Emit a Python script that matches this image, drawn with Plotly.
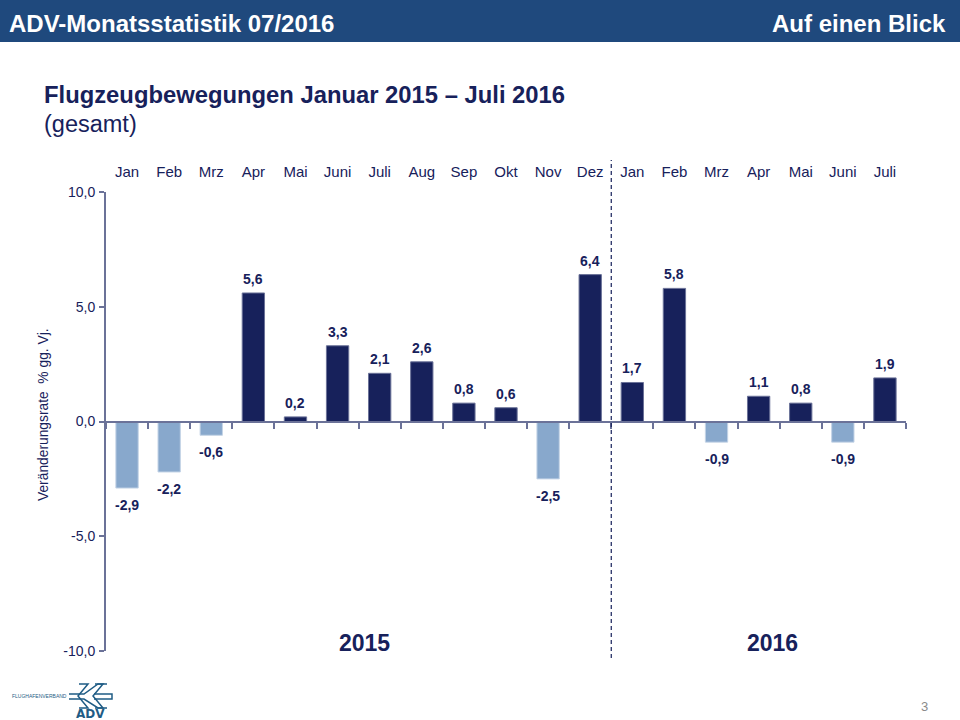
import plotly.graph_objects as go

# Veraenderungsrate gegenueber Vorjahr
monate = ['Jan', 'Feb', 'Mrz', 'Apr', 'Mai', 'Juni', 'Juli', 'Aug', 'Sep', 'Okt', 'Nov', 'Dez',
          'Jan', 'Feb', 'Mrz', 'Apr', 'Mai', 'Juni', 'Juli']
werte = [-2.9, -2.2, -0.6, 5.6, 0.2, 3.3, 2.1, 2.6, 0.8, 0.6, -2.5, 6.4,
         1.7, 5.8, -0.9, 1.1, 0.8, -0.9, 1.9]
y_ticks = [-10, -5, 0, 5, 10]
y_labels = ['-10,0', '-5,0', '0,0', '5,0', '10,0']

FONT = 'Liberation Sans'
NAVY = '#17215B'
HELL = '#88A8CC'
ACHSE = '#6B7298'
LOGO = '#1F5C85'
positionen = list(range(len(monate)))


def py(pixel):
    return 1 - pixel / 720


def px(pixel):
    return pixel / 960


def kante(punkte, breite):
    pfad = 'M ' + ' L '.join(f'{px(a)} {py(b)}' for a, b in punkte)
    return dict(type='path', xref='paper', yref='paper', path=pfad, line=dict(color=LOGO, width=breite))


farben = [NAVY if w >= 0 else HELL for w in werte]
rand = ['#6B7298' if w >= 0 else '#C3D3E6' for w in werte]
texte = [f'{w:.1f}'.replace('.', ',') for w in werte]

fig = go.Figure()
fig.add_trace(go.Bar(x=positionen, y=werte, width=0.53, marker=dict(color=farben, line=dict(color=rand, width=1)),
                     showlegend=False, hoverinfo='skip'))
# zweite Achse nur fuer die Monatsnamen oben
fig.add_trace(go.Bar(x=positionen, y=[None] * len(monate), xaxis='x2', showlegend=False, hoverinfo='skip'))

# Werte ueber/unter den Balken, etwas abgesetzt
wert_labels = [
    dict(text=t, x=i, y=w, xref='x', yref='y', yanchor='middle', xanchor='center', showarrow=False,
         yshift=14 if w >= 0 else -17, font=dict(family=FONT, size=14, color=NAVY, weight='bold'))
    for i, w, t in zip(positionen, werte, texte)
]

fig.update_layout(
    width=960, height=720, paper_bgcolor='white', plot_bgcolor='white',
    margin=dict(l=0, r=0, t=0, b=0, pad=0), barmode='overlay',
    font=dict(family=FONT, color=NAVY),
    xaxis=dict(domain=[px(106), px(906)], range=[-0.5, 18.5], anchor='free', position=py(421.5),
               automargin=False, showgrid=False, zeroline=False, showline=True, linecolor=ACHSE, linewidth=2,
               tickmode='array', tickvals=[i - 0.5 for i in range(20)], showticklabels=False,
               ticks='outside', ticklen=6, tickcolor=ACHSE, tickwidth=2),
    xaxis2=dict(domain=[px(106), px(906)], range=[-0.5, 18.5], overlaying='x', side='top',
                anchor='free', position=py(192), automargin=False, showgrid=False, zeroline=False, showline=False,
                tickmode='array', tickvals=positionen, ticktext=monate, ticks='outside', ticklen=9,
                tickcolor='rgba(0,0,0,0)', tickfont=dict(family=FONT, size=15, color=NAVY)),
    yaxis=dict(domain=[py(651), py(192)], range=[-10, 10], tickmode='array', tickvals=y_ticks,
               automargin=False, ticktext=y_labels, showgrid=False, zeroline=False, showline=True, linecolor=ACHSE,
               linewidth=2, ticks='outside', ticklen=5, tickcolor=ACHSE, tickwidth=2, ticklabelstandoff=1,
               tickfont=dict(family=FONT, size=14, color=NAVY)),
    shapes=[
        dict(type='rect', xref='paper', yref='paper', x0=0, x1=1, y0=py(42), y1=1,
             fillcolor='#1F497D', line_width=0),
        dict(type='line', xref='x', yref='paper', x0=11.5, x1=11.5, y0=py(658), y1=py(160),
             line=dict(color=NAVY, width=1.2, dash='4px,3px')),
        # Logo
        kante([(69, 694), (84, 694), (98, 684), (107, 684)], 1.5),
        kante([(69, 699), (84, 699), (98, 708), (107, 708)], 1.5),
        kante([(94, 694), (112, 694), (112, 699), (94, 699)], 1.5),
        kante([(79, 684), (88, 684), (78, 696), (88, 708), (79, 708)], 1.5),
        kante([(95, 684), (103, 684), (93, 696), (103, 708), (95, 708)], 1.5),
    ],
    annotations=wert_labels + [
        dict(text='ADV-Monatsstatistik 07/2016', xref='paper', yref='paper', x=px(7), y=py(24),
             xanchor='left', yanchor='middle', showarrow=False,
             font=dict(size=24, color='white', weight='bold')),
        dict(text='Auf einen Blick', xref='paper', yref='paper', x=px(948), y=py(24),
             xanchor='right', yanchor='middle', showarrow=False,
             font=dict(size=24, color='white', weight='bold')),
        dict(text='Flugzeugbewegungen Januar 2015 – Juli 2016', xref='paper', yref='paper', x=px(42), y=py(95),
             xanchor='left', yanchor='middle', showarrow=False,
             font=dict(size=23.8, color=NAVY, weight='bold')),
        dict(text='(gesamt)', xref='paper', yref='paper', x=px(42), y=py(124),
             xanchor='left', yanchor='middle', showarrow=False, font=dict(size=23.5, color=NAVY)),
        dict(text='Veränderungsrate  % gg. Vj.', xref='paper', yref='paper', x=px(44), y=py(415),
             xanchor='center', yanchor='middle', showarrow=False, textangle=-90,
             font=dict(size=13.8, color=NAVY)),
        dict(text='2015', xref='x', yref='paper', x=5.63, y=py(643), xanchor='center', yanchor='middle',
             showarrow=False, font=dict(size=23, color=NAVY, weight='bold')),
        dict(text='2016', xref='x', yref='paper', x=15.34, y=py(643), xanchor='center', yanchor='middle',
             showarrow=False, font=dict(size=23, color=NAVY, weight='bold')),
        dict(text='3', xref='paper', yref='paper', x=px(924), y=py(706), xanchor='center', yanchor='middle',
             showarrow=False, font=dict(size=13, color='#8A8A8A')),
        dict(text='FLUGHAFENVERBAND', xref='paper', yref='paper', x=px(10), y=py(696), xanchor='left',
             yanchor='middle', showarrow=False, font=dict(size=5, color=LOGO)),
        dict(text='ADV', xref='paper', yref='paper', x=px(90), y=py(714), xanchor='center', yanchor='middle',
             showarrow=False, font=dict(family='DejaVu Sans', size=12, color=LOGO, weight='bold')),
    ],
)

# Seitenrand weg, damit die Kopfzeile bis an den Rand geht
fig.write_html("out.html", config=dict(displayModeBar=False),
               post_script="document.body.style.margin='0';document.documentElement.style.overflow='hidden';")
